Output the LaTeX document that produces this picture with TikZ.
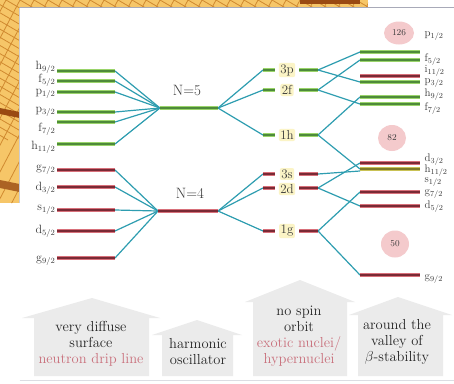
\documentclass[tikz,border=0pt]{standalone}
\definecolor{conn}{HTML}{2E9DB0}
\definecolor{gl}{HTML}{9AD46A}
\definecolor{gd}{HTML}{4E8A3A}
\definecolor{rl}{HTML}{D8707A}
\definecolor{rd}{HTML}{7A2A35}
\definecolor{ol}{HTML}{C9C255}
\definecolor{od}{HTML}{7E7A2A}
\definecolor{pinkc}{HTML}{F4CACC}
\definecolor{housec}{HTML}{EBEBEB}
\definecolor{pinktxt}{HTML}{C9707C}
\definecolor{orng}{HTML}{F6C668}
\definecolor{orngd}{HTML}{D08A30}
\definecolor{brwn}{HTML}{9A4A12}
\definecolor{yel}{HTML}{FBF4C6}
\definecolor{txt}{HTML}{3A3A3A}
\definecolor{htxt}{HTML}{262626}
\definecolor{frame}{HTML}{A8AAB8}
\newcommand{\lv}[2]{#1\textsubscript{#2}}
\tikzset{
  conn/.style={draw=conn, line width=1.2pt},
  glev/.style={draw=gl, line width=3.8pt, postaction={draw=gd, line width=1.3pt}},
  rlev/.style={draw=rl, line width=3.8pt, postaction={draw=rd, line width=1.3pt}},
  olev/.style={draw=ol, line width=3.8pt, postaction={draw=od, line width=1.3pt}},
  lablL/.style={anchor=east, text=txt, inner sep=0.5pt, font=\fontsize{12}{12}\selectfont},
  lablR/.style={anchor=west, text=txt, inner sep=0.5pt, font=\fontsize{11}{11}\selectfont},
  mlab/.style={fill=yel, rounded corners=2pt, text=txt, inner sep=1.5pt, font=\fontsize{13}{13}\selectfont},
  nlab/.style={text=txt, font=\fontsize{15}{15}\selectfont},
  magic/.style={ellipse, fill=pinkc, text=txt, inner sep=0pt, font=\fontsize{9}{9}\selectfont},
  housebox/.style={fill=housec},
  htext/.style={align=center, text=htxt, font=\fontsize{14.5}{16}\selectfont},
}
\usetikzlibrary{shapes.geometric}
\begin{document}
\begin{tikzpicture}[x=1pt,y=-1pt]
\useasboundingbox (0,0) rectangle (454,383);
\fill[white] (0,0) rectangle (454,383);
% decorative orange grid background
\begin{scope}
  \clip (0,0) rectangle (368,7.5) (0,0) rectangle (19.5,203);
  \fill[orng] (0,0) rectangle (368,203);
  \foreach \i in {-400,-386,...,400} {
    \draw[orngd, line width=0.8pt] (\i,0) -- ++(240,140);
    \draw[orngd, line width=0.8pt] (\i,0) -- ++(-110,210);
  }
  \fill[brwn] (0,108) -- (19.5,112) -- (19.5,118) -- (0,114) -- cycle;
  \fill[brwn!80!orng] (0,180) -- (19.5,184) -- (19.5,192) -- (0,188) -- cycle;
  \fill[brwn] (300,0) rectangle (360,4);
\end{scope}
\draw[frame, line width=0.8pt] (19.5,7.5) -- (454,7.5);
\draw[frame!60, line width=0.6pt] (19.5,7.5) -- (19.5,203);
\draw[frame!40, line width=0.6pt] (19.5,380) -- (454,380);

% houses
\fill[housebox] (34,376) -- (34,318) -- (22,318) -- (92,298) -- (160,318) -- (149,318) -- (149,376) -- cycle;
\fill[housebox] (162,376) -- (162,335) -- (152,335) -- (197,320) -- (242,335) -- (233,335) -- (233,376) -- cycle;
\fill[housebox] (253,376) -- (253,302) -- (245,302) -- (300,280) -- (355,302) -- (347,302) -- (347,376) -- cycle;
\fill[housebox] (358,376) -- (358,315) -- (349,315) -- (398,297) -- (452,315) -- (443,315) -- (443,376) -- cycle;
\node[htext] (t1) at (91,344) {very diffuse\\surface\\\textcolor{pinktxt}{neutron drip line}};
\node[htext] (t2) at (198,352) {harmonic\\oscillator};
\node[htext] (t3) at (299,336) {no spin\\orbit\\\textcolor{pinktxt}{exotic nuclei/}\\\textcolor{pinktxt}{hypernuclei}};
\node[htext] (t4) at (397,342) {around the\\valley of\\$\beta$-stability};

% magic number ellipses
\node[magic, minimum width=30pt, minimum height=23pt] (m126) at (399,33) {126};
\node[magic, minimum width=28pt, minimum height=26pt] (m82) at (392,138) {82};
\node[magic, minimum width=28pt, minimum height=27pt] (m50) at (395,244) {50};

% coordinates
\coordinate (N5a) at (160,108); \coordinate (N5b) at (218,108);
\coordinate (N4a) at (158,211); \coordinate (N4b) at (218,211);
\foreach \n/\y in {h9/71, f5/81, p1/92, p3/112, f7/122, h11/144, g7/170, d3/187, s1/210, d5/231, g9/258} {
  \coordinate (L\n a) at (57,\y); \coordinate (L\n b) at (115,\y);
}
\foreach \n/\y in {3p/70, 2f/90, 1h/135, 3s/174, 2d/188, 1g/231} {
  \coordinate (M\n a) at (263,\y); \coordinate (M\n b) at (275,\y);
  \coordinate (M\n c) at (299,\y); \coordinate (M\n d) at (318,\y);
}
\foreach \n/\y in {p1/52, f5/60, i13/76, p3/82, h9/97, f7/104, d3/163, h11/169, g7/192, d5/206, g9/275} {
  \coordinate (R\n a) at (360,\y); \coordinate (R\n b) at (420,\y);
}
\coordinate (Rs1a) at (360,171);

% connectors
\foreach \n in {h9, f5, p1, p3, f7, h11} \draw[conn] (L\n b) -- (N5a);
\foreach \n in {g7, d3, s1, d5, g9} \draw[conn] (L\n b) -- (N4a);
\foreach \n in {3p, 2f, 1h} \draw[conn] (N5b) -- (M\n a);
\foreach \n in {3s, 2d, 1g} \draw[conn] (N4b) -- (M\n a);
\draw[conn] (M3pd) -- (Rp1a);
\draw[conn] (M3pd) -- (Rp3a);
\draw[conn] (M2fd) -- (Rf5a);
\draw[conn] (M2fd) -- (Rf7a);
\draw[conn] (M1hd) -- (Rh9a);
\draw[conn] (M1hd) -- (Rh11a);
\draw[conn] (M3sd) -- (Rs1a);
\draw[conn] (M2dd) -- (Rd3a);
\draw[conn] (M2dd) -- (Rd5a);
\draw[conn] (M1gd) -- (Rg7a);
\draw[conn] (M1gd) -- (Rg9a);

% levels
\foreach \n in {h9, f5, p1, p3, f7, h11} \draw[glev] (L\n a) -- (L\n b);
\foreach \n in {g7, d3, s1, d5, g9} \draw[rlev] (L\n a) -- (L\n b);
\draw[glev] (N5a) -- (N5b);
\draw[rlev] (N4a) -- (N4b);
\foreach \n in {3p, 2f, 1h} { \draw[glev, line width=3.2pt] (M\n a) -- (M\n b); \draw[glev, line width=3.2pt] (M\n c) -- (M\n d); }
\foreach \n in {3s, 2d, 1g} { \draw[rlev, line width=3.2pt] (M\n a) -- (M\n b); \draw[rlev, line width=3.2pt] (M\n c) -- (M\n d); }
\foreach \n in {p1, f5, p3, h9, f7} \draw[glev] (R\n a) -- (R\n b);
\draw[rlev] (Ri13a) -- (Ri13b);
\draw[rlev] (Rd3a) -- (Rd3b);
\draw[olev] (Rh11a) -- (Rh11b);
\foreach \n in {g7, d5, g9} \draw[rlev] (R\n a) -- (R\n b);

% labels
\node[nlab] (n5) at (187,90) {N=5};
\node[nlab] (n4) at (190,193) {N=4};
\node[mlab] (l3p) at (287,70) {3p};
\node[mlab] (l2f) at (287,90) {2f};
\node[mlab] (l1h) at (287,135) {1h};
\node[mlab] (l3s) at (287,174) {3s};
\node[mlab] (l2d) at (287,189) {2d};
\node[mlab] (l1g) at (287,231) {1g};

\node[lablL] (a1) at (56,67.5) {\lv{h}{9/2}};
\node[lablL] (a2) at (56,80.5) {\lv{f}{5/2}};
\node[lablL] (a3) at (56,93.5) {\lv{p}{1/2}};
\node[lablL] (a4) at (56,112) {\lv{p}{3/2}};
\node[lablL] (a5) at (56,129) {\lv{f}{7/2}};
\node[lablL] (a6) at (56,147) {\lv{h}{11/2}};
\node[lablL] (a7) at (56,170) {\lv{g}{7/2}};
\node[lablL] (a8) at (56,188) {\lv{d}{3/2}};
\node[lablL] (a9) at (56,210) {\lv{s}{1/2}};
\node[lablL] (a10) at (56,231) {\lv{d}{5/2}};
\node[lablL] (a11) at (56,261) {\lv{g}{9/2}};

\node[lablR] (b1) at (424,36) {\lv{p}{1/2}};
\node[lablR] (b2) at (424,60) {\lv{f}{5/2}};
\node[lablR] (b3) at (424,71) {\lv{i}{11/2}};
\node[lablR] (b4) at (424,83) {\lv{p}{3/2}};
\node[lablR] (b5) at (424,95) {\lv{h}{9/2}};
\node[lablR] (b6) at (424,109) {\lv{f}{7/2}};
\node[lablR] (b7) at (424,160) {\lv{d}{3/2}};
\node[lablR] (b8) at (424,171) {\lv{h}{11/2}};
\node[lablR] (b9) at (424,182) {\lv{s}{1/2}};
\node[lablR] (b10) at (424,194) {\lv{g}{7/2}};
\node[lablR] (b11) at (424,207) {\lv{d}{5/2}};
\node[lablR] (b12) at (424,279) {\lv{g}{9/2}};
\end{tikzpicture}
\end{document}
